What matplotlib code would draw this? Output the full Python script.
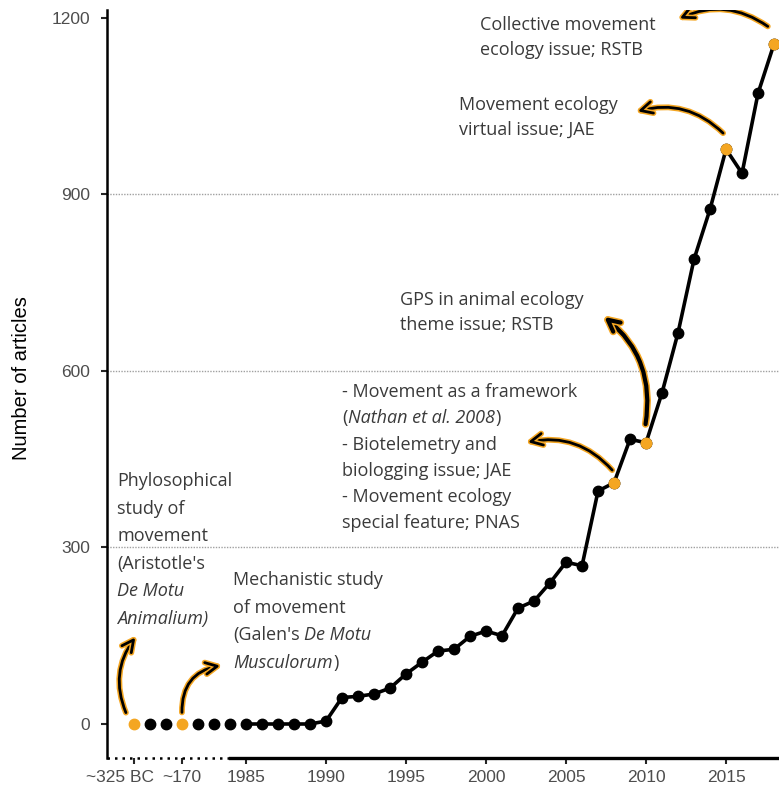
import matplotlib
matplotlib.use('Agg')
import matplotlib.pyplot as plt
import matplotlib.patheffects as pe
from matplotlib.patches import FancyArrowPatch
from matplotlib.transforms import ScaledTranslation

plt.rcParams['font.family'] = ['Liberation Sans', 'DejaVu Sans']

# data
early_x = [1978, 1979, 1980, 1981, 1982, 1983, 1984]
early_counts = [0, 0, 0, 0, 0, 0, 0]
early_orange = [True, False, False, True, False, False, False]

years = list(range(1985, 2019))
articles = [0, 0, 0, 0, 0, 5, 45, 47, 51, 61, 85, 105, 124, 127, 149, 158,
            150, 197, 209, 240, 275, 269, 396, 410, 484, 478, 563, 665, 790,
            875, 977, 936, 1072, 1156]
highlight_years = [2008, 2010, 2015, 2018]

xtick_pos = [1978, 1981, 1985, 1990, 1995, 2000, 2005, 2010, 2015]
xtick_labels = ['~325 BC', '~170', '1985', '1990', '1995', '2000', '2005', '2010', '2015']
yticks = [0, 300, 600, 900, 1200]
grid_y = [300, 600, 900]

orange = '#F4A622'
txt_col = '#3a3a3a'

fig = plt.figure(figsize=(7.79, 7.91), dpi=100)
ax = fig.add_axes([107/779, 33/791, 672/779, 748/791])
x0, x1 = 1976.31, 2018.31
y0, y1 = -57.8, 1213.6
ax.set_xlim(x0, x1)
ax.set_ylim(y0, y1)

for g in grid_y:
    ax.axhline(g, color='#a0a0a0', lw=1, ls=(0, (1, 1)), zorder=0)

# main series
ax.plot(years, articles, color='black', lw=2.6, marker='o', ms=7.5, zorder=3)
hx = [y for y in years if y in highlight_years]
hy = [a for y, a in zip(years, articles) if y in highlight_years]
ax.plot(hx, hy, 'o', color=orange, ms=7.5, zorder=4)

# early periods, not connected
for x, c, o in zip(early_x, early_counts, early_orange):
    ax.plot(x, c, 'o', color=orange if o else 'black', ms=7.5, zorder=4)

# axes styling: bottom axis dotted for the early periods, solid after
for s in ['top', 'right', 'bottom']:
    ax.spines[s].set_visible(False)
ax.spines['left'].set_linewidth(1.8)
ax.spines['left'].set_color('black')
split = (1984 - x0) / (x1 - x0)
ax.plot([0, split], [0, 0], transform=ax.transAxes, color='black', lw=1.8,
        ls=(0, (1, 2)), clip_on=False, zorder=6)
ax.plot([split, 1], [0, 0], transform=ax.transAxes, color='black', lw=2.4,
        ls='-', clip_on=False, zorder=6)

ax.set_xticks(xtick_pos)
ax.set_xticklabels(xtick_labels)
ax.set_yticks(yticks)
ax.tick_params(axis='both', labelsize=12.5, labelcolor='#4d4d4d', color='#262626',
               length=4.5, width=1.5)
ax.tick_params(axis='y', pad=7.5)
ax.tick_params(axis='x', pad=4.5)
bc = ax.get_xticklabels()[0]
bc.set_transform(bc.get_transform() + ScaledTranslation(-0.14, 0, fig.dpi_scale_trans))

fig.text(22/779, 0.522, 'Number of articles', rotation=90, ha='center',
         va='center', fontsize=14.5, color='black')


def block(x, y, lines, gap):
    # each line is a list of (text, italic) pieces
    for i, line in enumerate(lines):
        prev = None
        for seg, it in line:
            kw = dict(fontsize=13, color=txt_col, family='Open Sans',
                      fontstyle='italic' if it else 'normal', annotation_clip=False)
            if prev is None:
                prev = ax.annotate(seg, (x, y), xytext=(0, -i * gap),
                                   textcoords='offset points', ha='left',
                                   va='baseline', **kw)
            else:
                sp = 3.4 if seg.startswith(' ') else 0.3
                prev = ax.annotate(seg.strip(), xy=(1, 0), xycoords=prev,
                                   xytext=(sp, 0), textcoords='offset points',
                                   ha='left', va='bottom', **kw)


block(1999.62, 1179.6, [[('Collective movement', 0)],
                        [('ecology issue; RSTB', 0)]], 18)
block(1998.31, 1043.6, [[('Movement ecology', 0)],
                        [('virtual issue; JAE', 0)]], 18)
block(1994.62, 712.2, [[('GPS in animal ecology', 0)],
                       [('theme issue; RSTB', 0)]], 18)
block(1991.0, 555.8, [[('- Movement as a framework', 0)],
                      [('(', 0), ('Nathan et al. 2008', 1), (')', 0)],
                      [('- Biotelemetry and', 0)],
                      [('biologging issue; JAE', 0)],
                      [('- Movement ecology', 0)],
                      [('special feature; PNAS', 0)]], 18.9)
block(1976.94, 404.5, [[('Phylosophical', 0)], [('study of', 0)],
                       [('movement', 0)], [("(Aristotle's", 0)],
                       [('De Motu', 1)], [('Animalium)', 1)]], 19.8)
block(1984.19, 236.3, [[('Mechanistic study', 0)], [('of movement', 0)],
                       [("(Galen's", 0), (' De Motu', 1)],
                       [('Musculorum', 1), (')', 0)]], 19.9)

# curved arrows (tail -> head, curvature, width)
arrows = [((1977.56, 15), (1978.19, 151), -0.3, 2.0),
          ((1981.0, 15), (1983.56, 100), -0.45, 2.0),
          ((2008.0, 428), (2002.44, 478), 0.3, 2.0),
          ((2009.94, 505), (2007.25, 695), 0.3, 3.0),
          ((2014.94, 1001), (2009.31, 1040), 0.3, 2.0),
          ((2017.75, 1183), (2011.94, 1197), 0.3, 2.0)]
for tail, head, rad, lw in arrows:
    arr = FancyArrowPatch(tail, head, connectionstyle=f'arc3,rad={rad}',
                          arrowstyle='->,head_length=0.7,head_width=0.35',
                          color='black', lw=lw, zorder=5, mutation_scale=12)
    arr.set_path_effects([pe.withStroke(linewidth=lw + 2.2, foreground=orange)])
    ax.add_patch(arr)

fig.savefig('out.png', dpi=100)
